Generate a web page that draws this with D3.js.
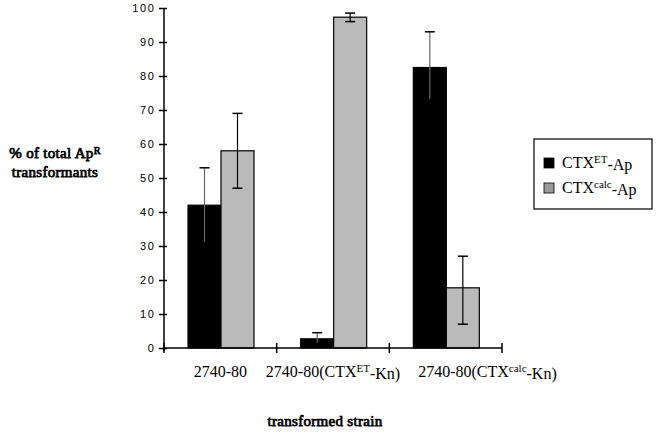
<!DOCTYPE html>
<html>
<head>
<meta charset="utf-8">
<script src="https://cdn.jsdelivr.net/npm/d3@7"></script>
<style>
  body { margin: 0; background: #fff; }
</style>
</head>
<body>
<div id="chart"></div>
<script>
// Datos del gráfico
const cepas = ["2740-80", "2740-80(CTX^ET-Kn)", "2740-80(CTX^calc-Kn)"];
const series = ["CTX^ET-Ap", "CTX^calc-Ap"];
const valoresET = [42, 2.7, 82.5];
const erroresET = [[31, 53], [1.3, 4.5], [73, 93]];
const valoresCalc = [58, 97.3, 17.7];
const erroresCalc = [[47, 69], [96, 98.5], [7, 27]];
const ticksY = [0, 10, 20, 30, 40, 50, 60, 70, 80, 90, 100];

const width = 659;
const height = 435;
const colores = ["#000000", "#bababa"];
const serif = "'Liberation Serif', 'Times New Roman', serif";
const sans = "'Liberation Sans', Arial, sans-serif";

const svg = d3.select("#chart")
  .append("svg")
  .attr("width", width)
  .attr("height", height);

// Escalas
const x = d3.scaleBand()
  .domain(cepas)
  .range([164, 502]);

const xSub = d3.scaleBand()
  .domain(series)
  .range([24, 90]);

const y = d3.scaleLinear()
  .domain([0, 100])
  .range([348, 8]);

// Texto con superíndice: "A^B-C" -> A, sup B, resto
function textoSup(sel, etiqueta, supSize) {
  const m = etiqueta.match(/^(.*?)\^([A-Za-z]+)(.*)$/);
  if (!m) { sel.text(etiqueta); return; }
  sel.append("tspan").text(m[1]);
  sel.append("tspan").attr("dy", "-0.45em").attr("font-size", supSize).text(m[2]);
  sel.append("tspan").attr("dy", "0.45em").text(m[3]);
}

// Negrita "falsa" (no hay Liberation Serif Bold): trazo fino sobre el texto
function negrita(sel) {
  sel.style("font-family", serif)
    .style("font-size", "15px")
    .attr("fill", "#000")
    .attr("stroke", "#000")
    .attr("stroke-width", 0.75)
    .attr("letter-spacing", "0.3px");
}

// Barras
const datos = [];
cepas.forEach((c, i) => {
  datos.push({ cepa: c, serie: series[0], valor: valoresET[i], err: erroresET[i], color: colores[0] });
  datos.push({ cepa: c, serie: series[1], valor: valoresCalc[i], err: erroresCalc[i], color: colores[1] });
});

const grupos = svg.selectAll("g.barra")
  .data(datos)
  .enter()
  .append("g")
  .attr("class", "barra")
  .attr("transform", d => `translate(${x(d.cepa) + xSub(d.serie)},0)`);

grupos.append("rect")
  .attr("x", 0)
  .attr("y", d => y(d.valor))
  .attr("width", xSub.bandwidth())
  .attr("height", d => y(0) - y(d.valor))
  .attr("fill", d => d.color)
  .attr("stroke", "#000")
  .attr("stroke-width", 1.2);

// Barras de error
const cx = xSub.bandwidth() / 2;
grupos.append("line")
  .attr("x1", cx).attr("x2", cx)
  .attr("y1", d => y(d.err[0]))
  .attr("y2", d => y(d.err[1]))
  .attr("stroke", d => d.color === "#000000" ? "#666" : "#000")
  .attr("stroke-width", 1.2);
grupos.selectAll("line.cap")
  .data(d => [d.err[0], d.err[1]])
  .enter()
  .append("line")
  .attr("class", "cap")
  .attr("x1", cx - 5).attr("x2", cx + 5)
  .attr("y1", d => y(d)).attr("y2", d => y(d))
  .attr("stroke", "#000")
  .attr("stroke-width", 1.5);

// Eje Y
const ejeY = svg.append("g")
  .attr("transform", "translate(164,0)")
  .call(d3.axisLeft(y).tickValues(ticksY).tickSize(5).tickSizeOuter(0).tickPadding(3.5));
ejeY.selectAll(".tick line").attr("x2", 3).attr("x1", -5).attr("stroke-width", 1.5);
ejeY.select(".domain").attr("d", "M0,8V351").attr("stroke-width", 1.5);
ejeY.selectAll(".tick text")
  .style("font-family", sans)
  .style("font-size", "11px")
  .style("letter-spacing", "1.6px");

// Eje X
const ejeX = svg.append("g")
  .attr("transform", "translate(0,348)");
ejeX.append("line")
  .attr("x1", x.range()[0]).attr("x2", x.range()[1])
  .attr("stroke", "#000").attr("stroke-width", 1.5);
ejeX.selectAll("line.tk")
  .data(cepas.map(c => x(c)).concat([x.range()[1]]))
  .enter()
  .append("line")
  .attr("class", "tk")
  .attr("x1", d => d).attr("x2", d => d)
  .attr("y1", -5).attr("y2", 5)
  .attr("stroke", "#000").attr("stroke-width", 1.5);

const etiquetas = ejeX.selectAll("text.cat")
  .data(cepas)
  .enter()
  .append("text")
  .attr("class", "cat")
  .attr("x", d => x(d) + x.bandwidth() / 2)
  .attr("y", 29)
  .attr("text-anchor", "middle")
  .style("font-family", serif)
  .style("font-size", "16px")
  .each(function(d) { textoSup(d3.select(this), d, "11px"); });

// Evitar que las etiquetas se solapen: desplazar a la derecha
let finAnterior = -Infinity;
etiquetas.each(function() {
  const caja = this.getBBox();
  if (caja.x < finAnterior + 18) {
    const dx = finAnterior + 18 - caja.x;
    d3.select(this).attr("x", +d3.select(this).attr("x") + dx);
    finAnterior = caja.x + dx + caja.width;
  } else {
    finAnterior = caja.x + caja.width;
  }
});

// Títulos de los ejes
const tituloY = svg.append("text")
  .attr("x", 55)
  .attr("y", 158)
  .attr("text-anchor", "middle")
  .call(negrita);
textoSup(tituloY, "% of total Ap^R", "10px");

svg.append("text")
  .attr("x", 55)
  .attr("y", 177)
  .attr("text-anchor", "middle")
  .call(negrita)
  .text("transformants");

svg.append("text")
  .attr("x", 325)
  .attr("y", 426)
  .attr("text-anchor", "middle")
  .call(negrita)
  .text("transformed strain");

// Leyenda
const leyenda = svg.append("g").attr("transform", "translate(534,139)");
leyenda.append("rect")
  .attr("width", 118).attr("height", 70)
  .attr("fill", "#fff").attr("stroke", "#000").attr("stroke-width", 1.2);
const items = leyenda.selectAll("g.item")
  .data(series)
  .enter()
  .append("g")
  .attr("class", "item")
  .attr("transform", (d, i) => `translate(0,${29 + i * 25})`);
items.append("rect")
  .attr("x", 10).attr("y", -10)
  .attr("width", 10).attr("height", 10)
  .attr("fill", (d, i) => i === 0 ? "#000" : "#9a9a9a")
  .attr("stroke", "#000").attr("stroke-width", 0.8);
items.append("text")
  .attr("x", 28)
  .attr("y", 0)
  .style("font-family", serif)
  .style("font-size", "16px")
  .each(function(d) { textoSup(d3.select(this), d, "11px"); });
</script>
</body>
</html>
